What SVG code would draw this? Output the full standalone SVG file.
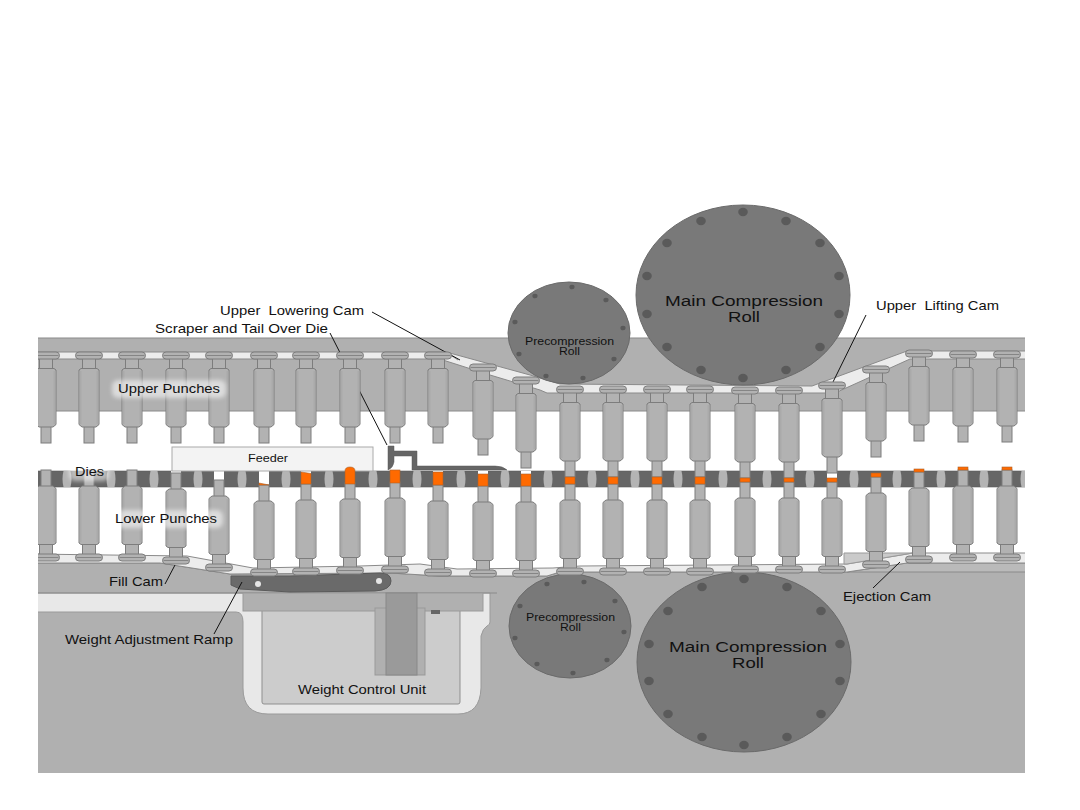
<svg xmlns="http://www.w3.org/2000/svg" width="1080" height="810" viewBox="0 0 1080 810">
<style>
text{font-family:"Liberation Sans",Arial,sans-serif;fill:#111;white-space:pre}
.t13{font-size:13px}.t10{font-size:10px}.t15{font-size:15.5px}
.line{stroke:#111;stroke-width:1;fill:none}
.gray{fill:#b0b0b0;stroke:#8a8a8a;stroke-width:1}
.track{fill:#ececec;stroke:#8a8a8a;stroke-width:1}
.roll{fill:#797979;stroke:#6a6a6a;stroke-width:1}
.bolt{fill:#5a5a5a}
.lens{fill:#b4b4b4}
.bore{fill:#fff}
.pow{fill:#ff6a00;stroke:#a8622c;stroke-width:.6}
.halo{fill:#fff;opacity:.55;filter:url(#soft)}
.steel{fill:#b2b2b2;stroke:#7d7d7d;stroke-width:1}
.edge{fill:#aaaaaa}
.ring{stroke:#858585;stroke-width:1;fill:none}
</style>
<defs>
<clipPath id="frame"><rect x="38" y="200" width="987" height="573"/></clipPath>
<filter id="soft" x="-20%" y="-40%" width="140%" height="180%"><feGaussianBlur stdDeviation="2"/></filter>
<!-- punch drawn from the head end downward; lower punches reuse it mirrored -->
<g id="punch">
<rect class="steel" x="-5" y="74" width="10" height="17"/>
<rect class="steel" x="-6.500" y="6" width="13" height="11"/>
<path class="steel" d="M-8,16.500 L8,16.500 L10,18 L10,72.500 L7,75 L-7,75 L-10,72.500 L-10,18 Z"/>
<rect class="edge" x="7.500" y="19" width="2" height="53"/>
<rect class="edge" x="-9.500" y="19" width="2" height="53"/>
<rect class="steel" x="-13.500" y="0" width="27" height="7" rx="3.500"/>
<path class="ring" d="M-12.500,3.500 H12.500"/>
</g>
<path id="lensShape" class="lens" d="M-3.500,471 Q-5.500,479 -3.500,487 H3.500 Q5.500,479 3.500,471 Z"/>
<ellipse id="holeL" class="bolt" rx="4.800" ry="4.200"/>
<ellipse id="holeS" class="bolt" rx="2.600" ry="2.300"/>
</defs>

<g clip-path="url(#frame)">
<!-- stationary frame and cam tracks; shapes run past the clip so only inner edges show -->
<g id="upper-frame">
<rect class="gray" x="30" y="338" width="1005" height="73"/>
<path class="track" d="M30,352 H446 L530,375 L560,384 L812,386 L907,351 H1035 V359 H910 L846,388 L835,393 H547 L540,390 L490,375 L446,361 L440,359 H30 Z"/>
<path d="M446,352 L458,360" stroke="#8a8a8a" fill="none"/>
</g>
<g id="lower-frame">
<path class="gray" d="M30,563 H160 L230,574 L390,573 L440,576 H547 L560,572 H847 L907,563 H1035 V790 H30 Z"/>
<path d="M847,572 L907,563 H1035 V572 Z" fill="#bababa" stroke="#8a8a8a"/>
<path class="track" d="M30,554 L187,556 L253,568 L360,566 L420,564 L457,569 L553,568 L580,566 L847,564 L913,553 H1035 V563 H907 L847,572 H560 L547,576 H440 L390,573 L230,574 L160,563 H30 Z"/>
<path d="M844,553 H913 L847,564 H844 Z" fill="#cacaca" stroke="#999"/>
</g>
<g id="weight-control-unit">
<path d="M30,593 H490 V622 Q490,625 487,626 Q483,628 481,636 V688 Q480,714 458,714 H268 Q243,714 243,688 V622 Q243,612 236,612 H30 Z" fill="#e8e8e8" stroke="#9a9a9a"/>
<path d="M30,593 H497" stroke="#8a8a8a" fill="none"/>
<rect x="262" y="608" width="198" height="96" rx="2" fill="#cccccc" stroke="#8f8f8f"/>
<rect x="243" y="593" width="240" height="18" fill="#b0b0b0" stroke="#9a9a9a"/>
<rect x="375" y="608" width="50" height="67" fill="#b0b0b0" stroke="#999"/>
<rect x="386" y="593" width="31" height="82" fill="#9a9a9a" stroke="#888"/>
<rect x="431" y="610" width="9" height="4" fill="#666"/>
</g>
<g id="weight-adjustment-ramp">
<path d="M231,576 L231,585 L240,589 L290,592 L375,591 Q391,590 391,581 Q391,573 380,573 L290,576 Z" fill="#6a6a6a" stroke="#5a5a5a"/>
<circle cx="258" cy="584" r="3" fill="#e6e6e6"/>
<circle cx="379" cy="581" r="3" fill="#e6e6e6"/>
</g>

<!-- compression rolls -->
<g id="main-roll-upper">
<ellipse class="roll" cx="743" cy="295" rx="107" ry="90"/>
<use href="#holeL" x="743" y="212"/><use href="#holeL" x="786" y="221"/><use href="#holeL" x="820" y="243"/><use href="#holeL" x="839" y="276"/><use href="#holeL" x="839" y="314"/><use href="#holeL" x="820" y="347"/><use href="#holeL" x="786" y="370"/><use href="#holeL" x="743" y="378"/><use href="#holeL" x="701" y="370"/><use href="#holeL" x="667" y="347"/><use href="#holeL" x="647" y="314"/><use href="#holeL" x="647" y="276"/><use href="#holeL" x="667" y="243"/><use href="#holeL" x="701" y="221"/>
<text class="t15" x="665" y="306" textLength="158" lengthAdjust="spacingAndGlyphs">Main Compression</text>
<text class="t15" x="728" y="322" textLength="32" lengthAdjust="spacingAndGlyphs">Roll</text>
</g>
<g id="main-roll-lower">
<ellipse class="roll" cx="744" cy="662" rx="107" ry="90"/>
<use href="#holeL" x="744" y="579"/><use href="#holeL" x="787" y="587"/><use href="#holeL" x="821" y="611"/><use href="#holeL" x="840" y="644"/><use href="#holeL" x="840" y="681"/><use href="#holeL" x="821" y="714"/><use href="#holeL" x="787" y="737"/><use href="#holeL" x="744" y="745"/><use href="#holeL" x="702" y="737"/><use href="#holeL" x="668" y="714"/><use href="#holeL" x="649" y="681"/><use href="#holeL" x="649" y="644"/><use href="#holeL" x="668" y="611"/><use href="#holeL" x="702" y="587"/>
<text class="t15" x="669" y="652" textLength="158" lengthAdjust="spacingAndGlyphs">Main Compression</text>
<text class="t15" x="732" y="668" textLength="32" lengthAdjust="spacingAndGlyphs">Roll</text>
</g>
<g id="precompression-roll-upper">
<ellipse class="roll" cx="569" cy="333" rx="61" ry="51"/>
<use href="#holeS" x="572" y="287"/><use href="#holeS" x="606" y="300"/><use href="#holeS" x="623" y="328"/><use href="#holeS" x="614" y="359"/><use href="#holeS" x="583" y="378"/><use href="#holeS" x="546" y="376"/><use href="#holeS" x="519" y="354"/><use href="#holeS" x="515" y="322"/><use href="#holeS" x="535" y="296"/>
<text class="t10" x="525" y="345" textLength="89" lengthAdjust="spacingAndGlyphs">Precompression</text>
<text class="t10" x="559" y="355" textLength="21" lengthAdjust="spacingAndGlyphs">Roll</text>
</g>
<g id="precompression-roll-lower">
<ellipse class="roll" cx="570" cy="626" rx="61" ry="52"/>
<use href="#holeS" x="584" y="582"/><use href="#holeS" x="615" y="601"/><use href="#holeS" x="624" y="632"/><use href="#holeS" x="607" y="660"/><use href="#holeS" x="573" y="673"/><use href="#holeS" x="537" y="664"/><use href="#holeS" x="515" y="638"/><use href="#holeS" x="520" y="606"/><use href="#holeS" x="547" y="584"/>
<text class="t10" x="526" y="621" textLength="89" lengthAdjust="spacingAndGlyphs">Precompression</text>
<text class="t10" x="560" y="631" textLength="21" lengthAdjust="spacingAndGlyphs">Roll</text>
</g>

<!-- leader lines; the scraper leader runs behind the punch it crosses -->
<g id="connectors">
<path class="line" d="M372,312 L460,360"/>
<path class="line" d="M330,333 L387,445"/>
<path class="line" d="M866,315 L833,382"/>
<path class="line" d="M175,565 L165,584"/>
<path class="line" d="M242,582 L214,634"/>
<path class="line" d="M900,562 L873,588"/>
</g>

<!-- die table -->
<g id="die-table">
<rect x="30" y="471" width="1005" height="16" fill="#666" stroke="#5c5c5c" stroke-width=".6"/>
<use href="#lensShape" x="67"/><use href="#lensShape" x="111"/><use href="#lensShape" x="154"/><use href="#lensShape" x="198"/><use href="#lensShape" x="242"/><use href="#lensShape" x="286"/><use href="#lensShape" x="329"/><use href="#lensShape" x="373"/><use href="#lensShape" x="417"/><use href="#lensShape" x="461"/><use href="#lensShape" x="505"/><use href="#lensShape" x="548"/><use href="#lensShape" x="592"/><use href="#lensShape" x="635"/><use href="#lensShape" x="678"/><use href="#lensShape" x="723"/><use href="#lensShape" x="767"/><use href="#lensShape" x="810"/><use href="#lensShape" x="854"/><use href="#lensShape" x="897"/><use href="#lensShape" x="941"/><use href="#lensShape" x="984"/><use href="#lensShape" x="1025"/>
<rect class="bore" x="171" y="471" width="10" height="16"/><rect class="bore" x="214" y="471" width="10" height="16"/><rect class="bore" x="259" y="471" width="10" height="16"/><rect class="bore" x="301" y="471" width="10" height="16"/><rect class="bore" x="345" y="471" width="10" height="16"/><rect class="bore" x="433" y="471" width="10" height="16"/><rect class="bore" x="478" y="471" width="10" height="16"/><rect class="bore" x="521" y="471" width="10" height="16"/><rect class="bore" x="827" y="471" width="10" height="16"/>
</g>

<g id="upper-punches">
<use href="#punch" x="46" y="352"/><use href="#punch" x="89" y="352"/><use href="#punch" x="132" y="352"/><use href="#punch" x="176" y="352"/><use href="#punch" x="219" y="352"/><use href="#punch" x="264" y="352"/><use href="#punch" x="306" y="352"/><use href="#punch" x="350" y="352"/><use href="#punch" x="395" y="352"/><use href="#punch" x="438" y="352"/><use href="#punch" x="483" y="364"/><use href="#punch" x="526" y="377"/><use href="#punch" x="570" y="386"/><use href="#punch" x="613" y="386"/><use href="#punch" x="657" y="386"/><use href="#punch" x="700" y="386"/><use href="#punch" x="745" y="387"/><use href="#punch" x="789" y="387"/><use href="#punch" x="832" y="382"/><use href="#punch" x="876" y="366"/><use href="#punch" x="919" y="350"/><use href="#punch" x="963" y="351"/><use href="#punch" x="1007" y="351"/>
</g>
<g id="lower-punches">
<use href="#punch" transform="translate(46,561) scale(1,-1)"/><use href="#punch" transform="translate(89,561) scale(1,-1)"/><use href="#punch" transform="translate(132,561) scale(1,-1)"/><use href="#punch" transform="translate(176,564) scale(1,-1)"/><use href="#punch" transform="translate(219,571) scale(1,-1)"/><use href="#punch" transform="translate(264,576) scale(1,-1)"/><use href="#punch" transform="translate(306,575) scale(1,-1)"/><use href="#punch" transform="translate(350,574) scale(1,-1)"/><use href="#punch" transform="translate(395,573) scale(1,-1)"/><use href="#punch" transform="translate(438,576) scale(1,-1)"/><use href="#punch" transform="translate(483,577) scale(1,-1)"/><use href="#punch" transform="translate(526,577) scale(1,-1)"/><use href="#punch" transform="translate(570,575) scale(1,-1)"/><use href="#punch" transform="translate(613,575) scale(1,-1)"/><use href="#punch" transform="translate(657,575) scale(1,-1)"/><use href="#punch" transform="translate(700,575) scale(1,-1)"/><use href="#punch" transform="translate(745,573) scale(1,-1)"/><use href="#punch" transform="translate(789,573) scale(1,-1)"/><use href="#punch" transform="translate(832,573) scale(1,-1)"/><use href="#punch" transform="translate(876,568) scale(1,-1)"/><use href="#punch" transform="translate(919,563) scale(1,-1)"/><use href="#punch" transform="translate(963,561) scale(1,-1)"/><use href="#punch" transform="translate(1007,561) scale(1,-1)"/>
</g>

<g id="feeder">
<rect x="172" y="447" width="201" height="24" fill="#f3f3f3" stroke="#aaa"/>
<text class="t10" x="248" y="462" textLength="40" lengthAdjust="spacingAndGlyphs">Feeder</text>
</g>

<!-- tablet powder held in the die bores -->
<g id="powder">
<path class="pow" d="M259,483 L269,485 H259 Z"/>
<path class="pow" d="M301,472 L311,473.500 V484 H301 Z"/>
<path class="pow" d="M345,484 V471 Q345,467 350,467 Q355,467 355,471 V484 Z"/>
<rect class="pow" x="390" y="470" width="10" height="13"/>
<rect class="pow" x="433" y="472" width="10" height="13"/>
<rect class="pow" x="478" y="474" width="10" height="12"/>
<rect class="pow" x="521" y="474" width="10" height="12"/>
<rect class="pow" x="565" y="477" width="10" height="7"/>
<rect class="pow" x="608" y="477" width="10" height="7"/>
<rect class="pow" x="652" y="477" width="10" height="7"/>
<rect class="pow" x="695" y="477" width="10" height="7"/>
<rect class="pow" x="740" y="478" width="10" height="4"/>
<rect class="pow" x="784" y="478" width="10" height="4"/>
<rect class="pow" x="827" y="478" width="10" height="4"/>
<rect class="pow" x="871" y="473" width="10" height="4"/>
<rect class="pow" x="914" y="469" width="10" height="3"/>
<rect class="pow" x="958" y="467" width="10" height="3"/>
<rect class="pow" x="1002" y="467" width="10" height="3"/>
</g>

<g id="scraper">
<path d="M388,446 H394 V451 H417 V466 H495 Q503,466 507,470 H412 V456 H394 V462 Q393,468 388,470 Z" fill="#666" stroke="#5a5a5a" stroke-width=".5"/>
</g>
</g>

<g id="labels">
<rect class="halo" x="112" y="380" width="114" height="18" rx="6"/>
<rect class="halo" x="109" y="510" width="114" height="18" rx="6"/>
<rect class="halo" x="69" y="463" width="40" height="18" rx="6"/>
<text class="t13" x="220" y="315" textLength="144" lengthAdjust="spacingAndGlyphs">Upper  Lowering Cam</text>
<text class="t13" x="155" y="333" textLength="173" lengthAdjust="spacingAndGlyphs">Scraper and Tail Over Die</text>
<text class="t13" x="118" y="393" textLength="102" lengthAdjust="spacingAndGlyphs">Upper Punches</text>
<text class="t13" x="115" y="523" textLength="102" lengthAdjust="spacingAndGlyphs">Lower Punches</text>
<text class="t13" x="75" y="476" textLength="29" lengthAdjust="spacingAndGlyphs">Dies</text>
<text class="t13" x="109" y="586" textLength="54" lengthAdjust="spacingAndGlyphs">Fill Cam</text>
<text class="t13" x="65" y="644" textLength="168" lengthAdjust="spacingAndGlyphs">Weight Adjustment Ramp</text>
<text class="t13" x="298" y="694" textLength="128" lengthAdjust="spacingAndGlyphs">Weight Control Unit</text>
<text class="t13" x="843" y="601" textLength="88" lengthAdjust="spacingAndGlyphs">Ejection Cam</text>
<text class="t13" x="876" y="310" textLength="123" lengthAdjust="spacingAndGlyphs">Upper  Lifting Cam</text>
</g>
</svg>
